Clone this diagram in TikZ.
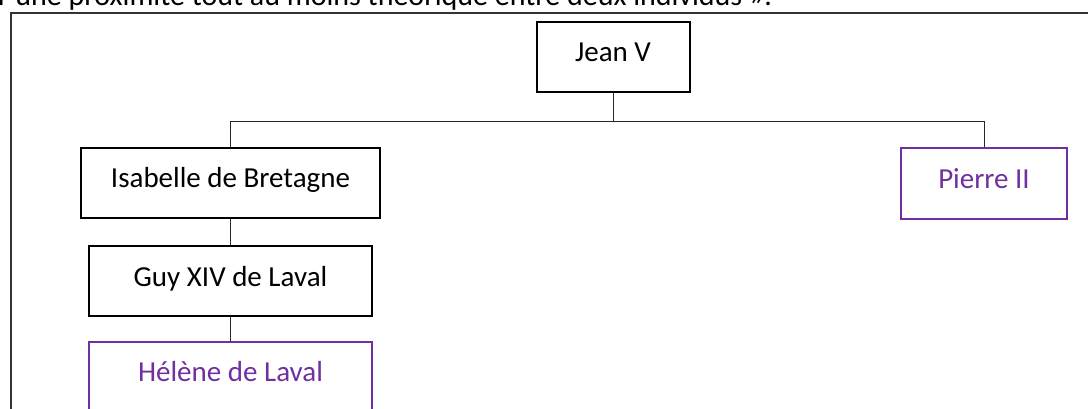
\documentclass[tikz,border=0pt]{standalone}
\usepackage{fontspec}
\setmainfont{Carlito}
\definecolor{officepurple}{HTML}{7030A0}
\begin{document}
\begin{tikzpicture}[x=1pt,y=-1pt,
  person/.style={draw=black,line width=2pt,rectangle,inner sep=0pt,text height=19pt,text depth=9pt,font=\fontsize{29}{32}\selectfont,text=black},
  purpleperson/.style={person,draw=officepurple,text=officepurple},
  link/.style={draw=black!85,line width=1pt}]
\path[use as bounding box] (0,0) rectangle (1088,409);
\clip (0,0) rectangle (1088,409);
\fill[white] (0,0) rectangle (1088,409);
% top partial text line
\node[anchor=base west,inner sep=0pt,font=\fontsize{30}{32}\selectfont] (toptext) at (-2,6) {r une proximité tout au moins théorique entre deux individus ».};
% frame
\draw[black!80,line width=1.6pt] (11,420) -- (11,13) -- (1100,13);
% nodes
\node[person,minimum width=153pt,minimum height=70pt] (jean) at (613,57) {Jean V};
\node[person,minimum width=299pt,minimum height=70pt] (isa) at (230.5,183) {Isabelle de Bretagne};
\node[purpleperson,minimum width=166pt,minimum height=71pt] (pierre) at (984,183.5) {Pierre II};
\node[person,minimum width=283pt,minimum height=70pt] (guy) at (230.5,281) {Guy XIV de Laval};
\node[purpleperson,minimum width=283pt,minimum height=68pt] (helene) at (230.5,376) {Hélène de Laval};
\coordinate (bar) at (613,122);
% connectors
\draw[link] (jean.south) -- (bar) -| (isa.north);
\draw[link] (bar) -| (pierre.north);
\draw[link] (isa.south) -- (guy.north);
\draw[link] (guy.south) -- (helene.north);
\end{tikzpicture}
\end{document}
